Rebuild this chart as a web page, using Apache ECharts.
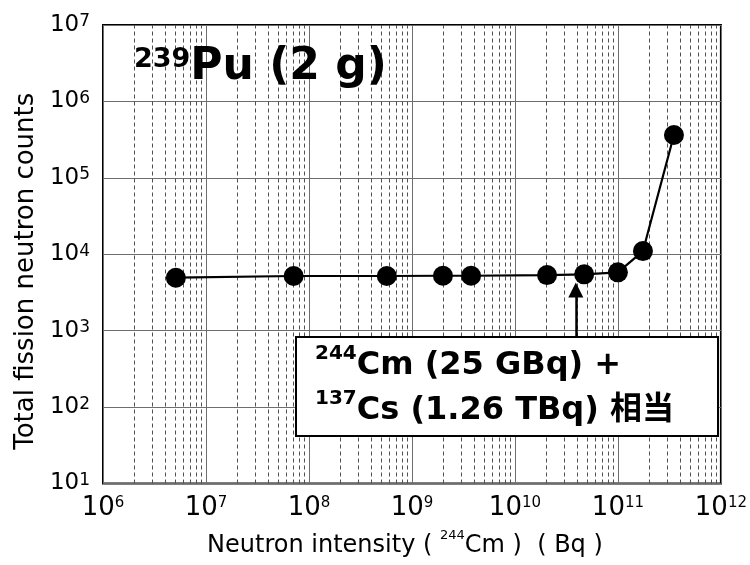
<!DOCTYPE html>
<html><head><meta charset="utf-8">
<script src="https://cdn.jsdelivr.net/npm/echarts@6/dist/echarts.min.js"></script>
<style>html,body{margin:0;padding:0;background:#fff}#c{width:750px;height:565px}</style>
</head><body><div id="c"></div>
<script>
// ---- data ----
const intensityBq   = [5.1e6, 7.1e7, 5.7e8, 2.0e9, 3.75e9, 2.05e10, 4.7e10, 1.0e11, 1.75e11, 3.5e11];
const fissionCounts = [4930, 5190, 5190, 5230, 5230, 5340, 5460, 5800, 11000, 363000];
const xTickExponents = [6, 7, 8, 9, 10, 11, 12];
const yTickExponents = [1, 2, 3, 4, 5, 6, 7];
const minorMultipliers = [2, 3, 4, 5, 6, 7, 8, 9];
const arrowX = 3.9e10;
const arrowFromY = 830;
const arrowToY = 3400;
const titleSup = '239', titleMain = 'Pu (2 g)';
const noteLine1Sup = '244', noteLine1 = 'Cm (25 GBq) +';
const noteLine2Sup = '137', noteLine2 = 'Cs (1.26 TBq) 相当';
const xNameMain = 'Neutron intensity ( ', xNameSup = '244', xNameTail = 'Cm )  ( Bq )';
const yName = 'Total fission neutron counts';

const FONT = "'DejaVu Sans', 'Noto Sans CJK JP', sans-serif";

const minorLines = [];
xTickExponents.slice(0, -1).forEach(e => {
  minorMultipliers.forEach(m => minorLines.push({ xAxis: m * Math.pow(10, e) }));
});

function expLabel(list) {
  return function (v) {
    const e = list.find(k => Math.abs(Math.log10(v) - k) < 1e-6);
    return e === undefined ? '' : '{b|10}{s|' + e + '}';
  };
}

const chart = echarts.init(document.getElementById('c'), null, { renderer: 'canvas' });
chart.setOption({
  animation: false,
  backgroundColor: '#fff',
  title: {
    left: 134, top: 46, padding: 0,
    text: '{s|' + titleSup + '}{m|' + titleMain + '}',
    textStyle: {
      rich: {
        s: { fontFamily: FONT, fontWeight: 'bold', fontSize: 27, lineHeight: 25, verticalAlign: 'top', color: '#000' },
        m: { fontFamily: FONT, fontWeight: 'bold', fontSize: 44, lineHeight: 44, color: '#000' }
      }
    }
  },
  grid: { left: 103, right: 23.5, top: 25, bottom: 81.5, show: true, borderColor: '#000', borderWidth: 2 },
  xAxis: {
    type: 'log', logBase: 10, min: 1e6, max: 1e12, splitNumber: 6,
    axisLine: { show: false }, axisTick: { show: false },
    splitLine: { show: true, lineStyle: { color: '#6e6e6e', width: 1 } },
    axisLabel: {
      margin: 12, formatter: expLabel(xTickExponents),
      rich: {
        b: { fontFamily: FONT, fontSize: 26, lineHeight: 26, color: '#000' },
        s: { fontFamily: FONT, fontSize: 15, lineHeight: 14, verticalAlign: 'top', color: '#000' }
      }
    },
    name: '{m|' + xNameMain + '}{s|' + xNameSup + '}{m|' + xNameTail + '}',
    nameLocation: 'middle', nameGap: 46,
    nameTextStyle: {
      padding: [0, 14, 0, 0],
      rich: {
        m: { fontFamily: FONT, fontSize: 24, lineHeight: 32, color: '#000' },
        s: { fontFamily: FONT, fontSize: 13, lineHeight: 2, verticalAlign: 'top', color: '#000' }
      }
    }
  },
  yAxis: {
    type: 'log', logBase: 10, min: 10, max: 1e7, splitNumber: 6,
    axisLine: { show: false }, axisTick: { show: false },
    splitLine: { show: true, lineStyle: { color: '#6e6e6e', width: 1 } },
    axisLabel: {
      margin: 13, formatter: expLabel(yTickExponents),
      rich: {
        b: { fontFamily: FONT, fontSize: 23, lineHeight: 23, color: '#000' },
        s: { fontFamily: FONT, fontSize: 17, lineHeight: 3, verticalAlign: 'top', color: '#000' }
      }
    },
    name: yName, nameLocation: 'middle', nameGap: 64,
    nameTextStyle: { fontFamily: FONT, fontSize: 26, lineHeight: 26, color: '#000', padding: [0, 34, 0, 0] }
  },
  series: [
    {
      type: 'line', data: [], z: 1, silent: true,
      markLine: {
        z: 1, silent: true, symbol: 'none', animation: false,
        label: { show: false },
        lineStyle: { color: '#505050', width: 1, type: [4, 3] },
        emphasis: { disabled: true },
        data: minorLines
      }
    },
    {
      type: 'line', z: 3,
      data: intensityBq.map((x, i) => [x, fissionCounts[i]]),
      symbol: 'circle', symbolSize: 20,
      itemStyle: { color: '#000' },
      lineStyle: { color: '#000', width: 2.2 },
      emphasis: { disabled: true },
      markLine: {
        silent: true, animation: false,
        symbol: ['none', 'triangle'], symbolSize: [15, 15],
        label: { show: false },
        lineStyle: { color: '#000', width: 2.5, type: 'solid' },
        emphasis: { disabled: true },
        data: [[{ coord: [arrowX, arrowFromY] }, { coord: [arrowX, arrowToY] }]]
      }
    }
  ],
  graphic: [
    {
      type: 'rect', z: 100,
      shape: { x: 296, y: 337, width: 422, height: 99 },
      style: { fill: '#fff', stroke: '#000', lineWidth: 2 }
    },
    {
      type: 'text', z: 101, left: 315, top: 343.4,
      style: {
        text: '{s|' + noteLine1Sup + '}{m|' + noteLine1 + '}\n{s|' + noteLine2Sup + '}{m|' + noteLine2 + '}',
        rich: {
          s: { fontFamily: FONT, fontWeight: 'bold', fontSize: 20, lineHeight: 35, verticalAlign: 'top', fill: '#000' },
          m: { fontFamily: FONT, fontWeight: 'bold', fontSize: 32, lineHeight: 45, fill: '#000' }
        }
      }
    }
  ]
});
</script></body></html>
